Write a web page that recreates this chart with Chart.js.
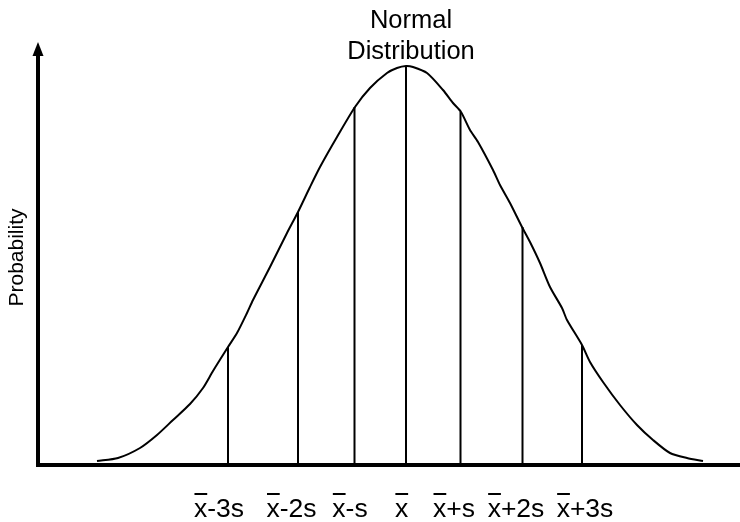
<!DOCTYPE html>
<html>
<head>
<meta charset="utf-8">
<title>Normal Distribution</title>
<script src="https://cdn.jsdelivr.net/npm/chart.js@4"></script>
<style>
  body { margin: 0; background: #fff; }
  #wrap { width: 740px; height: 522px; }
</style>
</head>
<body>
<div id="wrap"><canvas id="normChart" width="740" height="522"></canvas></div>
<script>
// curve traced along x (drawing units), heights above the axis
const curveX = [59, 80, 102, 119, 135, 152, 165, 175, 190, 199, 209, 215, 232, 249, 260, 272, 282, 299, 317, 332, 349, 359, 368, 375, 389, 405, 415, 423, 432, 440, 455, 462, 472, 484, 492, 502, 512, 524, 529, 544, 552, 565, 582, 599, 615, 632, 649, 665];
const curveY = [4, 7, 17, 30, 45, 61, 77, 94, 118, 132, 152, 165, 198, 232, 253, 278, 298, 328, 358, 377, 392, 397, 399, 398, 392, 375, 362, 353, 335, 323, 295, 280, 262, 238, 223, 202, 178, 157, 145, 120, 103, 83, 60, 40, 25, 12, 7, 4];

// standard deviation markers: position and height where they meet the curve
const markerX = [190, 260, 316.5, 368, 422.5, 484.5, 544];
const markerTop = [118, 253, 358, 399, 353, 238, 120];

// labels under the axis
const tickPos = [181, 253.5, 312, 363.5, 416, 478, 547];
const tickLabels = ['x-3s', 'x-2s', 'x-s', 'x', 'x+s', 'x+2s', 'x+3s'];

const titleLines = ['Normal', 'Distribution'];
const FONT = '"Liberation Sans", Arial, sans-serif';

const curve = {
  data: curveX.map((x, i) => ({ x: x, y: curveY[i] })),
  borderColor: '#000',
  borderWidth: 2,
  pointRadius: 0,
  showLine: true,
  tension: 0.25
};

const markers = markerX.map((x, i) => ({
  data: [{ x: x, y: 0 }, { x: x, y: markerTop[i] }],
  borderColor: '#000',
  borderWidth: 2,
  pointRadius: 0,
  showLine: true
}));

// title, x-bar labels and the arrow on the vertical axis
const decorations = {
  id: 'decorations',
  afterDraw(chart) {
    const ctx = chart.ctx;
    const xs = chart.scales.x;
    const area = chart.chartArea;
    ctx.save();
    ctx.fillStyle = '#000';
    ctx.strokeStyle = '#000';

    ctx.font = '25.5px ' + FONT;
    ctx.textAlign = 'center';
    ctx.textBaseline = 'alphabetic';
    ctx.fillText(titleLines[0], 411, 28);
    ctx.fillText(titleLines[1], 411, 59);

    ctx.font = '26.5px ' + FONT;
    ctx.lineWidth = 2;
    tickLabels.forEach((lbl, i) => {
      const cx = xs.getPixelForValue(tickPos[i]);
      const w = ctx.measureText(lbl).width;
      const left = cx - w / 2;
      ctx.fillText(lbl, cx, 517);
      const xw = ctx.measureText('x').width;
      ctx.beginPath();
      ctx.moveTo(left + 0.5, 494);
      ctx.lineTo(left + xw, 494);
      ctx.stroke();
    });

    const ax = area.left;
    ctx.beginPath();
    ctx.moveTo(ax, 42);
    ctx.lineTo(ax - 5.5, 56);
    ctx.lineTo(ax + 5.5, 56);
    ctx.closePath();
    ctx.fill();
    ctx.restore();
  }
};

new Chart(document.getElementById('normChart'), {
  type: 'scatter',
  data: { datasets: [curve, ...markers] },
  plugins: [decorations],
  options: {
    responsive: false,
    animation: false,
    layout: { padding: { top: 50, right: 0, left: 0, bottom: 0 } },
    plugins: {
      legend: { display: false },
      tooltip: { enabled: false }
    },
    scales: {
      x: {
        type: 'linear',
        min: 0,
        max: 702,
        grid: { display: false },
        border: { display: true, color: '#000', width: 4 },
        ticks: { display: false },
        afterFit(scale) { scale.height = 57; }
      },
      y: {
        type: 'linear',
        min: 0,
        max: 415,
        grid: { display: false },
        border: { display: true, color: '#000', width: 4 },
        ticks: { display: false },
        title: {
          display: true,
          text: 'Probability',
          color: '#000',
          font: { family: FONT, size: 21 },
          padding: { top: 5, bottom: 0 }
        },
        afterFit(scale) { scale.width = 38; }
      }
    }
  }
});
</script>
</body>
</html>
